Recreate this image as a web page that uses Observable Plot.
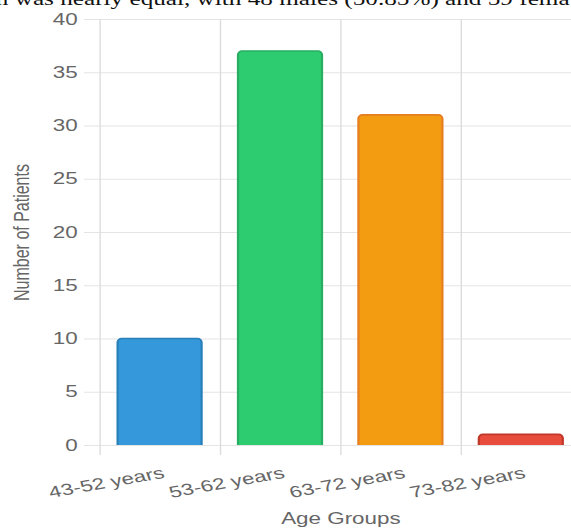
<!DOCTYPE html>
<html>
<head>
<meta charset="utf-8">
<script src="https://cdn.jsdelivr.net/npm/d3@7"></script>
<script src="https://cdn.jsdelivr.net/npm/@observablehq/plot@0.6"></script>
<style>
  html, body { margin: 0; padding: 0; background: #fff; }
  #clip { width: 571px; height: 529px; overflow: hidden; position: relative; background: #fff; }
  #wrap { position: absolute; left: 0; top: 0; width: 430px; height: 529px; transform: scaleX(1.4); transform-origin: 0 0; }
  #topline { position: absolute; left: -3px; top: -10.5px; font-family: "Liberation Serif", "Times New Roman", serif; font-size: 18px; line-height: 18px; color: #111; white-space: nowrap; }
  #wrap svg { position: absolute; left: 0; top: 0; }
</style>
</head>
<body>
<div id="clip"><div id="wrap"><div id="topline">n was nearly equal, with 48 males (50.85%) and 59 fema</div></div></div>
<script>
const ages = ["43-52 years", "53-62 years", "63-72 years", "73-82 years"];
const patients = [10, 37, 31, 1];
const fills = ["#3498db", "#2ecc71", "#f39c12", "#e74c3c"];
const borders = ["#2980b9", "#27ae60", "#e67e22", "#c0392b"];
const yTicks = [0, 5, 10, 15, 20, 25, 30, 35, 40];
const yTitle = "Number of Patients";
const xTitle = "Age Groups";

const data = ages.map((a, i) => ({age: a, n: patients[i], fill: fills[i], border: borders[i]}));

const W = 430, H = 529, mL = 71, mR = 15, mT = 19, mB = 84;
const step = (W - mL - mR) / ages.length;

const chart = Plot.plot({
  width: W, height: H,
  marginLeft: mL, marginRight: mR, marginTop: mT, marginBottom: mB,
  style: {fontFamily: "'Liberation Sans', Arial, sans-serif", fontSize: "16px", color: "#666", background: "transparent", overflow: "visible"},
  x: {domain: ages, paddingInner: 0.3, paddingOuter: 0.15, align: 0.5, axis: null},
  y: {domain: [0, 40], axis: null},
  marks: [
    Plot.ruleY(yTicks, {stroke: "#e4e4e4", strokeWidth: 1, insetLeft: -11}),
    Plot.ruleX(ages, {x: d => d, dx: -step / 2, stroke: "#dcdcdc", strokeWidth: 1, insetBottom: -10}),
    Plot.barY(data, {x: "age", y: "n", fill: d => d.fill, stroke: d => d.border, strokeWidth: 1.6, rx: 3, ry: 4, insetBottom: -8, clip: true}),
    Plot.axisY(yTicks, {tickSize: 0, tickPadding: 16, label: null, fill: "#666", fontSize: 16}),
    Plot.axisX({tickSize: 0, tickPadding: 27, tickRotate: -14, dx: 2.5, label: null, fill: "#666", fontSize: 16}),
    Plot.text([yTitle], {text: d => d, frameAnchor: "left", textAnchor: "middle", rotate: -90, dx: -56, fontSize: 16, fill: "#666"}),
    Plot.text([xTitle], {text: d => d, frameAnchor: "bottom", lineAnchor: "top", dy: 67, fontSize: 16, fill: "#666"})
  ]
});
document.getElementById("wrap").appendChild(chart);
</script>
</body>
</html>
